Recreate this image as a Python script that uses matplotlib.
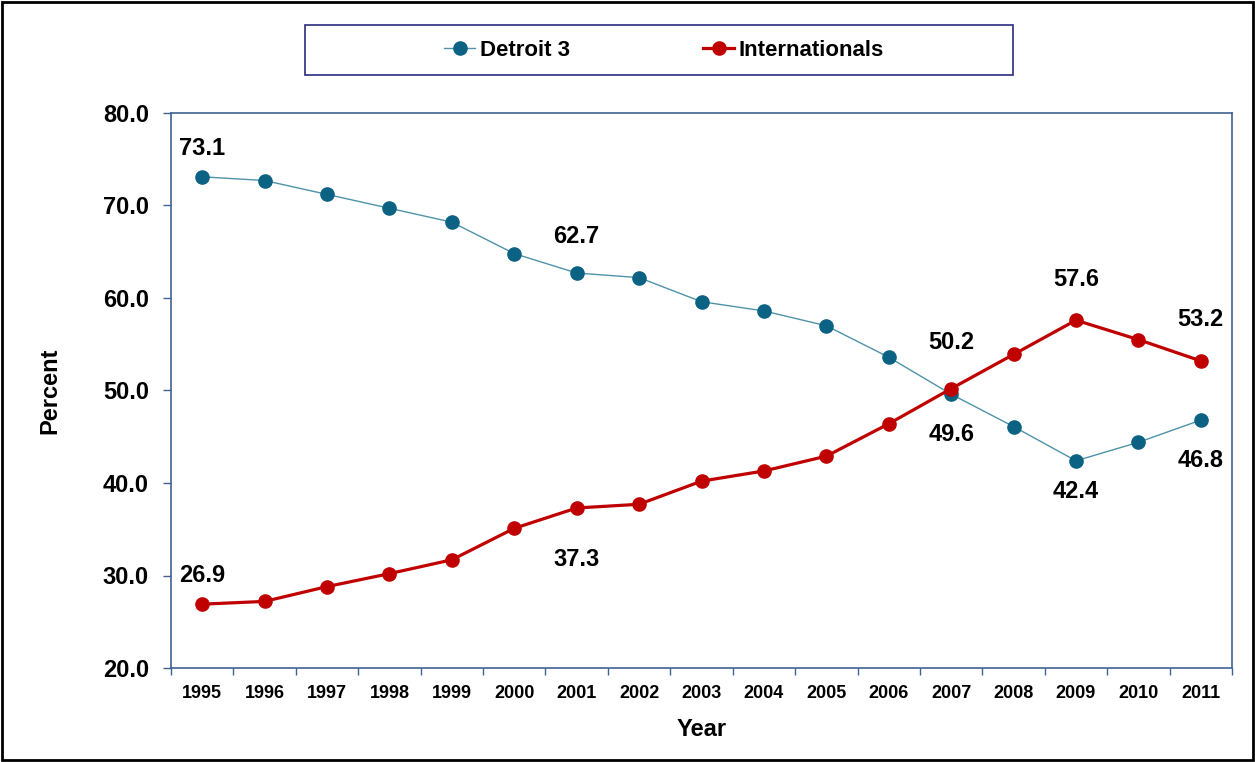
import matplotlib
matplotlib.use("Agg")
import matplotlib.pyplot as plt
from matplotlib.patches import Rectangle
from matplotlib.ticker import FixedLocator, FormatStrFormatter

# ---------------- market share data ----------------
years = [str(y) for y in range(1995, 2012)]
detroit3 = [73.1, 72.7, 71.2, 69.7, 68.2, 64.8, 62.7, 62.2, 59.6, 58.6,
            57.0, 53.6, 49.6, 46.1, 42.4, 44.4, 46.8]
internationals = [26.9, 27.2, 28.8, 30.2, 31.7, 35.1, 37.3, 37.7, 40.2, 41.3,
                  42.9, 46.4, 50.2, 53.9, 57.6, 55.5, 53.2]

# which points get a value label, and pixel offset of the label
detroit3_labels = {0: 28, 6: 37, 12: -40, 14: -31, 16: -40}
intl_labels = {0: 29, 6: -52, 12: 46, 14: 41, 16: 41}

plt.rcParams['font.family'] = ['Liberation Sans', 'DejaVu Sans']
plt.rcParams['font.weight'] = 'bold'

teal = '#0B6283'
teal_line = '#4E93A8'
red = '#C00000'
axis_col = '#3F6293'

fig = plt.figure(figsize=(12.55, 7.62), dpi=100)
ax = fig.add_axes([171 / 1255, 1 - 668 / 762, (1232 - 171) / 1255, (668 - 113) / 762])

x = list(range(len(years)))
ax.plot(x, detroit3, color=teal_line, lw=1.0, marker='o', ms=9.5,
        mfc=teal, mec=teal, label='Detroit 3', zorder=3)
ax.plot(x, internationals, color=red, lw=2.3, marker='o', ms=9.5,
        mfc=red, mec=red, label='Internationals', zorder=4)

for i, off in detroit3_labels.items():
    ax.annotate('%.1f' % detroit3[i], (x[i], detroit3[i]), xytext=(0, off),
                textcoords='offset pixels', ha='center', va='center',
                fontsize=17, fontweight='bold')
for i, off in intl_labels.items():
    ax.annotate('%.1f' % internationals[i], (x[i], internationals[i]), xytext=(0, off),
                textcoords='offset pixels', ha='center', va='center',
                fontsize=17, fontweight='bold')

ax.set_xlim(-0.5, len(years) - 0.5)
ax.set_ylim(20, 80)
ax.yaxis.set_major_locator(FixedLocator(range(20, 81, 10)))
ax.yaxis.set_major_formatter(FormatStrFormatter('%.1f'))

# category ticks sit between the years, labels centred on each year
ax.xaxis.set_major_locator(FixedLocator([i - 0.5 for i in range(len(years) + 1)]))
ax.xaxis.set_minor_locator(FixedLocator(x))
ax.set_xticklabels([''] * (len(years) + 1))
ax.set_xticklabels(years, minor=True)
ax.tick_params(axis='x', which='major', direction='out', length=5, width=1, color=axis_col)
ax.tick_params(axis='x', which='minor', length=0, pad=12, labelsize=13)
ax.tick_params(axis='y', direction='out', length=6, width=1, color=axis_col,
               pad=10, labelsize=17)
for t in ax.get_xticklabels(minor=True) + ax.get_yticklabels():
    t.set_fontweight('bold')

for s in ax.spines.values():
    s.set_color(axis_col)
    s.set_linewidth(1.2)

ax.set_xlabel('Year', fontsize=17, fontweight='bold', labelpad=12)
ax.set_ylabel('Percent', fontsize=17, fontweight='bold', labelpad=30)

# legend in its own box above the plot
fig.patches.append(Rectangle((305 / 1255, 1 - 75 / 762), (1013 - 305) / 1255, 50 / 762,
                             transform=fig.transFigure, fill=False,
                             edgecolor='#2B2B80', lw=1.2))
fig.legend(loc='center', bbox_to_anchor=(664 / 1255, 1 - 50 / 762), ncol=2,
           frameon=False, prop={'size': 16, 'weight': 'bold'},
           handlelength=1.4, handletextpad=0.2, columnspacing=6.0)

# outer border
fig.patches.append(Rectangle((2 / 1255, 2 / 762), 1251 / 1255, 758 / 762,
                             transform=fig.transFigure, fill=False,
                             edgecolor='black', lw=2))

fig.savefig('out.png', dpi=100)
